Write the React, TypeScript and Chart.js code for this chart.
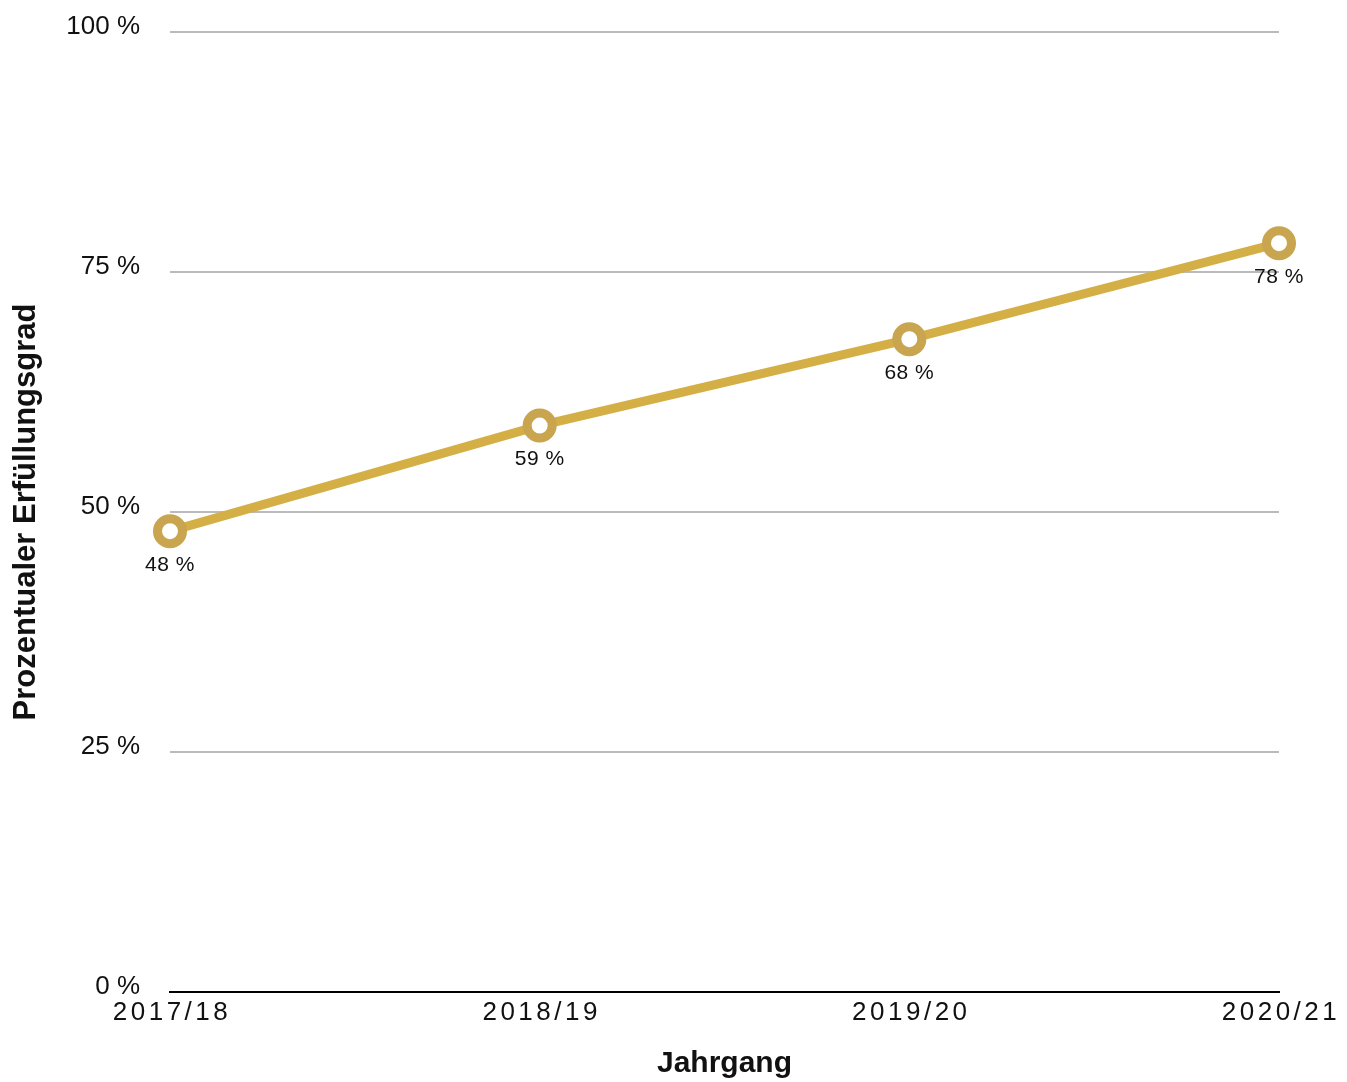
import React, { useEffect, useRef } from "react";
import { Chart, registerables } from "chart.js";

Chart.register(...registerables);

const categories = ["2017/18", "2018/19", "2019/20", "2020/21"];
const values = [48, 59, 68, 78];
const yTicks = [0, 25, 50, 75, 100];
const yTitle = "Prozentualer Erfüllungsgrad";
const xTitle = "Jahrgang";

const FONT = "'Liberation Sans', Arial, sans-serif";

const labelPlugin = {
  id: "pointLabels",
  afterDatasetsDraw(chart: any) {
    const { ctx } = chart;
    const meta = chart.getDatasetMeta(0);
    ctx.save();
    ctx.font = `21px ${FONT}`;
    (ctx as any).letterSpacing = "0.5px";
    ctx.fillStyle = "#111";
    ctx.textAlign = "center";
    ctx.textBaseline = "middle";
    meta.data.forEach((pt: any, i: number) => {
      ctx.fillText(values[i] + " %", pt.x, pt.y + 34);
    });
    ctx.restore();
  },
  afterDraw(chart: any) {
    const { ctx } = chart;
    const xs = chart.scales.x;
    ctx.save();
    ctx.font = `26px ${FONT}`;
    (ctx as any).letterSpacing = "3.5px";
    ctx.fillStyle = "#111";
    ctx.textAlign = "center";
    ctx.textBaseline = "middle";
    categories.forEach((c, i) => {
      ctx.fillText(c, xs.getPixelForTick(i) + 2, chart.chartArea.bottom + 21);
    });
    ctx.restore();
  },
};

export default function App() {
  const ref = useRef<HTMLCanvasElement>(null);
  useEffect(() => {
    if (!ref.current) return;
    const chart = new Chart(ref.current, {
      type: "line",
      data: {
        labels: categories,
        datasets: [
          {
            data: values,
            borderColor: "#D4AF46",
            borderWidth: 9,
            pointRadius: 12.5,
            pointHoverRadius: 12.5,
            pointBorderWidth: 9,
            pointBorderColor: "#C9A550",
            pointBackgroundColor: "#ffffff",
            clip: false as any,
            tension: 0,
          },
        ],
      },
      options: {
        responsive: false,
        animation: false,
        layout: { padding: { top: 32, right: 68, left: 8, bottom: 0 } },
        plugins: { legend: { display: false }, tooltip: { enabled: false } },
        scales: {
          x: {
            offset: false,
            grid: { display: false, drawTicks: false },
            border: { display: true, color: "#000", width: 2 },
            ticks: { color: "rgba(0,0,0,0)", font: { family: FONT, size: 26 }, padding: 4, maxRotation: 0 },
            title: {
              display: true,
              text: xTitle,
              color: "#111",
              font: { family: FONT, size: 30, weight: "bold" },
              padding: { top: 8, bottom: 0 },
            },
            afterFit: (s: any) => {
              s.height = 90;
              s.paddingLeft = 0;
              s.paddingRight = 0;
            },
          },
          y: {
            min: 0,
            max: 100,
            afterBuildTicks: (s: any) => {
              s.ticks = yTicks.map((v) => ({ value: v }));
            },
            grid: {
              drawTicks: false,
              color: (c: any) => (c.tick && c.tick.value === 0 ? "#000" : "#BBBBBB"),
              lineWidth: 2,
            },
            border: { display: false },
            ticks: {
              color: "#111",
              font: { family: FONT, size: 26 },
              padding: 30,
              labelOffset: -5,
              callback: (v: any) => v + " %",
            },
            title: {
              display: true,
              text: yTitle,
              color: "#111",
              font: { family: FONT, size: 31, weight: "bold" },
              padding: { top: 0, bottom: 0 },
            },
            afterFit: (s: any) => {
              s.width = 162;
              s.paddingTop = 0;
              s.paddingBottom = 0;
            },
          },
        },
      },
      plugins: [labelPlugin],
    });
    return () => chart.destroy();
  }, []);
  return (
    <div style={{ position: "absolute", left: 0, top: 0 }}>
      <canvas ref={ref} width={1347} height={1082} style={{ display: "block" }} />
    </div>
  );
}
